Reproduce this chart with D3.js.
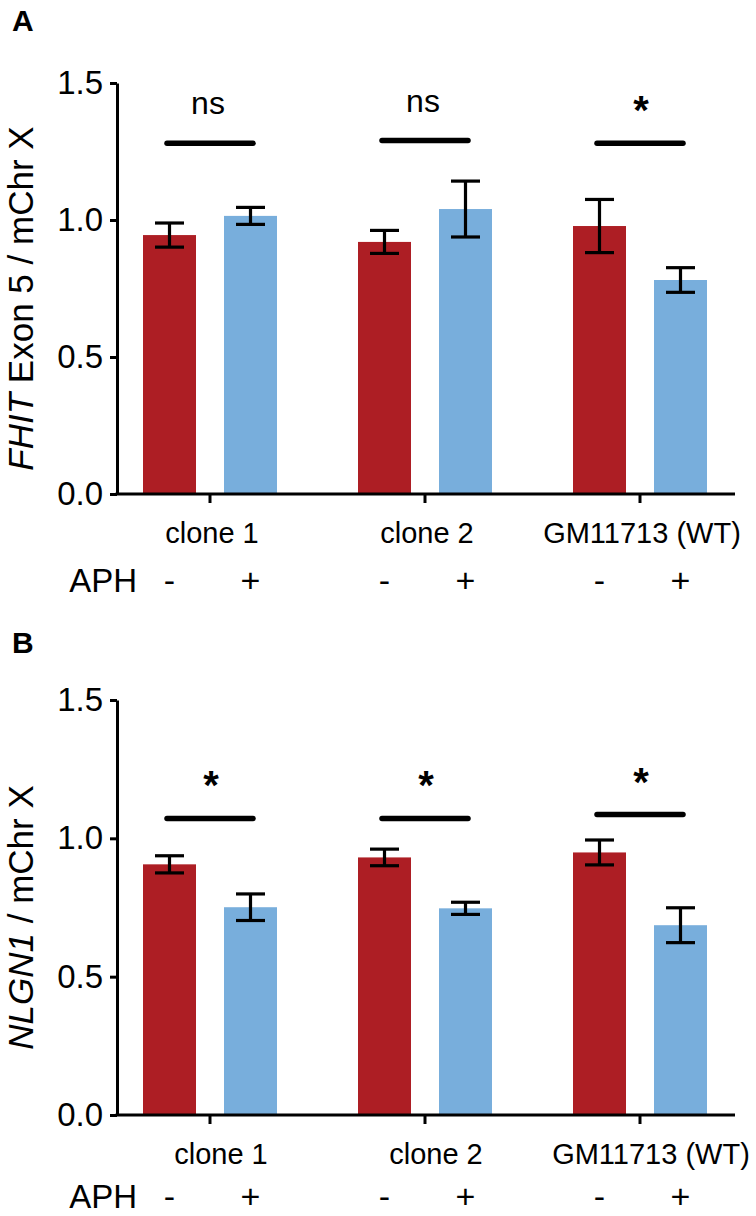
<!DOCTYPE html>
<html><head><meta charset="utf-8">
<script src="https://cdn.jsdelivr.net/npm/d3@7"></script>
<style>
body{margin:0;background:#fff}
svg{display:block}
text{font-family:"Liberation Sans",Arial,Helvetica,sans-serif;fill:#000}
</style>
</head><body>
<svg id="chart" width="756" height="1216"></svg>
<script>
// ---- data ----
const categories = ["clone 1", "clone 2", "GM11713 (WT)"];
const treatments = ["-", "+"];
const yTicks = [0, 0.5, 1.0, 1.5];

const fhitMinus    = [0.945, 0.920, 0.978];
const fhitMinusErr = [0.044, 0.042, 0.097];
const fhitPlus     = [1.015, 1.040, 0.781];
const fhitPlusErr  = [0.031, 0.102, 0.045];
const fhitSigText  = ["ns", "ns", "*"];
const fhitSigLevel = [1.28, 1.29, 1.28];

const nlgnMinus    = [0.906, 0.931, 0.949];
const nlgnMinusErr = [0.031, 0.030, 0.045];
const nlgnPlus     = [0.751, 0.747, 0.686];
const nlgnPlusErr  = [0.048, 0.022, 0.063];
const nlgnSigText  = ["*", "*", "*"];
const nlgnSigLevel = [1.072, 1.072, 1.086];

const colors = {"-": "#ad1e24", "+": "#78aedc"};

// ---- layout ----
const panels = [
  {letter: "A", letterY: 31, top: 83, bottom: 494, titleItalic: "FHIT", titleRest: " Exon 5 / mChr X",
   minus: fhitMinus, minusErr: fhitMinusErr, plus: fhitPlus, plusErr: fhitPlusErr,
   sigText: fhitSigText, sigLevel: fhitSigLevel, catShift: 2, aphY: 592},
  {letter: "B", letterY: 653, top: 700, bottom: 1115, titleItalic: "NLGN1", titleRest: " / mChr X",
   minus: nlgnMinus, minusErr: nlgnMinusErr, plus: nlgnPlus, plusErr: nlgnPlusErr,
   sigText: nlgnSigText, sigLevel: nlgnSigLevel, catShift: 11, aphY: 1208}
];

const svg = d3.select("#chart");
const axisX = 117, axisEnd = 735;

const x = d3.scalePoint().domain(categories).range([210, 640]);
const sub = d3.scaleBand().domain(treatments).range([-67, 67]).paddingInner(0.3457);

panels.forEach(p => {
  const g = svg.append("g");
  const y = d3.scaleLinear().domain([0, 1.5]).range([p.bottom, p.top]);

  // panel letter
  g.append("text").attr("x", 12).attr("y", p.letterY)
    .style("font-size", "30px").style("font-weight", "bold").text(p.letter);

  // bars
  const rows = [];
  categories.forEach((c, i) => {
    rows.push({cat: c, t: "-", v: p.minus[i], e: p.minusErr[i]});
    rows.push({cat: c, t: "+", v: p.plus[i], e: p.plusErr[i]});
  });
  g.selectAll("rect.bar").data(rows).join("rect")
    .attr("class", "bar")
    .attr("x", d => x(d.cat) + sub(d.t))
    .attr("width", sub.bandwidth())
    .attr("y", d => y(d.v))
    .attr("height", d => y(0) - y(d.v))
    .attr("fill", d => colors[d.t]);

  // error bars
  const eg = g.selectAll("g.err").data(rows).join("g").attr("class", "err")
    .attr("stroke", "#000").attr("stroke-width", 3.2).attr("fill", "none");
  const cx = d => x(d.cat) + sub(d.t) + sub.bandwidth() / 2;
  eg.append("line").attr("x1", cx).attr("x2", cx)
    .attr("y1", d => y(d.v + d.e)).attr("y2", d => y(d.v - d.e));
  eg.append("line").attr("x1", d => cx(d) - 14.5).attr("x2", d => cx(d) + 14.5)
    .attr("y1", d => y(d.v + d.e)).attr("y2", d => y(d.v + d.e));
  eg.append("line").attr("x1", d => cx(d) - 14.5).attr("x2", d => cx(d) + 14.5)
    .attr("y1", d => y(d.v - d.e)).attr("y2", d => y(d.v - d.e));

  // y axis
  const ya = g.append("g").attr("transform", `translate(${axisX},0)`)
    .call(d3.axisLeft(y).tickValues(yTicks).tickFormat(d3.format(".1f"))
      .tickSize(7).tickSizeOuter(0).tickPadding(7));
  ya.select(".domain").attr("stroke-width", 3);
  ya.selectAll(".tick line").attr("stroke-width", 3);
  ya.selectAll(".tick text").style("font-size", "33px")
    .style("font-family", '"Liberation Sans",Arial,sans-serif').attr("fill", "#000");

  // x axis
  g.append("line").attr("x1", axisX - 1.5).attr("x2", axisEnd)
    .attr("y1", y(0)).attr("y2", y(0)).attr("stroke", "#000").attr("stroke-width", 3);
  g.selectAll("line.xt").data(categories).join("line").attr("class", "xt")
    .attr("x1", d => x(d)).attr("x2", d => x(d))
    .attr("y1", y(0)).attr("y2", y(0) + 9).attr("stroke", "#000").attr("stroke-width", 3);
  g.selectAll("text.cat").data(categories).join("text").attr("class", "cat")
    .attr("x", d => x(d) + p.catShift).attr("y", y(0) + 49)
    .attr("text-anchor", "middle").style("font-size", "29px").text(d => d);

  // APH row
  g.append("text").attr("x", 137).attr("y", p.aphY).attr("text-anchor", "end")
    .style("font-size", "33px").text("APH");
  g.selectAll("text.trt").data(rows).join("text").attr("class", "trt")
    .attr("x", d => cx(d)).attr("y", p.aphY)
    .attr("text-anchor", "middle").style("font-size", "34px").text(d => d.t);

  // y title
  const cy = (p.top + p.bottom) / 2 + 10;
  const tt = g.append("text").attr("transform", `translate(33,${cy}) rotate(-90)`)
    .attr("text-anchor", "middle").style("font-size", "35px");
  tt.append("tspan").style("font-style", "italic").text(p.titleItalic);
  tt.append("tspan").text(p.titleRest);

  // significance
  categories.forEach((c, i) => {
    const ly = y(p.sigLevel[i]);
    g.append("line").attr("x1", x(c) - 43).attr("x2", x(c) + 43)
      .attr("y1", ly).attr("y2", ly).attr("stroke", "#000")
      .attr("stroke-width", 5.5).attr("stroke-linecap", "round");
    const s = p.sigText[i];
    if (s === "ns") {
      g.append("text").attr("x", x(c) - 2).attr("y", ly - 29).attr("text-anchor", "middle")
        .style("font-size", "32px").text(s);
    } else {
      g.append("text").attr("x", x(c) + 1).attr("y", ly - 19).attr("text-anchor", "middle")
        .style("font-size", "40px").style("font-weight", "bold").text(s);
    }
  });
});
</script>
</body></html>
